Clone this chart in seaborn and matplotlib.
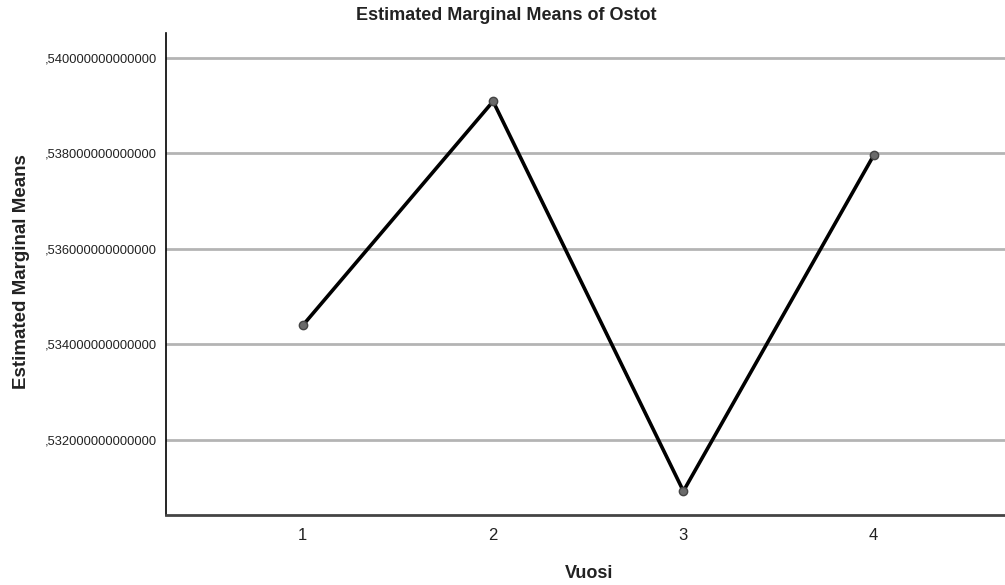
import matplotlib
matplotlib.use("Agg")
import matplotlib.pyplot as plt
import seaborn as sns
import pandas as pd
from matplotlib.ticker import FuncFormatter

vuosi = [1, 2, 3, 4]
means = [0.53440, 0.53909, 0.53093, 0.53796]
yticks = [0.532, 0.534, 0.536, 0.538, 0.540]
title = "Estimated Marginal Means of Ostot"
xlabel = "Vuosi"
ylabel = "Estimated Marginal Means"

sns.set_theme(style="white")
plt.rcParams['font.family'] = ['Liberation Sans', 'DejaVu Sans']

df = pd.DataFrame({"Vuosi": vuosi, "Mean": means})

fig = plt.figure(figsize=(10.05, 5.85), dpi=100)
ax = fig.add_axes([166/1005, 1-515/585, 1-166/1005, (515-33)/585])

sns.lineplot(data=df, x="Vuosi", y="Mean", ax=ax, color="black", linewidth=2.6,
             marker="o", markersize=6, markerfacecolor="#6a6a6a",
             markeredgecolor="#444444", markeredgewidth=1, zorder=3)

ax.set_xlim(0.281, 4.69)
ax.set_ylim(0.53043, 0.54052)
ax.set_yticks(yticks)
ax.set_xticks(vuosi)
ax.yaxis.set_major_formatter(FuncFormatter(lambda v, p: "," + f"{v:.15f}".split(".")[1]))
ax.tick_params(axis="y", labelsize=9.3, length=0, pad=6.5)
ax.tick_params(axis="x", labelsize=12, length=0, pad=9)
for t in ax.get_xticklabels() + ax.get_yticklabels():
    t.set_color("#222222")

ax.grid(axis="y", color="#b4b4b4", linewidth=2)
ax.grid(axis="x", visible=False)
ax.set_axisbelow(True)

ax.spines["top"].set_visible(False)
ax.spines["right"].set_visible(False)
ax.spines["left"].set_color("black")
ax.spines["left"].set_linewidth(1.2)
ax.spines["bottom"].set_color("#444444")
ax.spines["bottom"].set_linewidth(2)

ax.set_xlabel("")
ax.set_ylabel("")
fig.text(589/1005, 1-574/585, xlabel, ha="center", va="center", fontsize=13, fontweight="bold", color="#222222")
fig.text(22/1005, 1-272/585, ylabel, ha="center", va="center", rotation=90, fontsize=13.5, fontweight="bold", color="#222222")
fig.text(506/1005, 1-16/585, title, ha="center", va="center", fontsize=13, fontweight="bold", color="#222222")

fig.savefig("out.png", dpi=100)
